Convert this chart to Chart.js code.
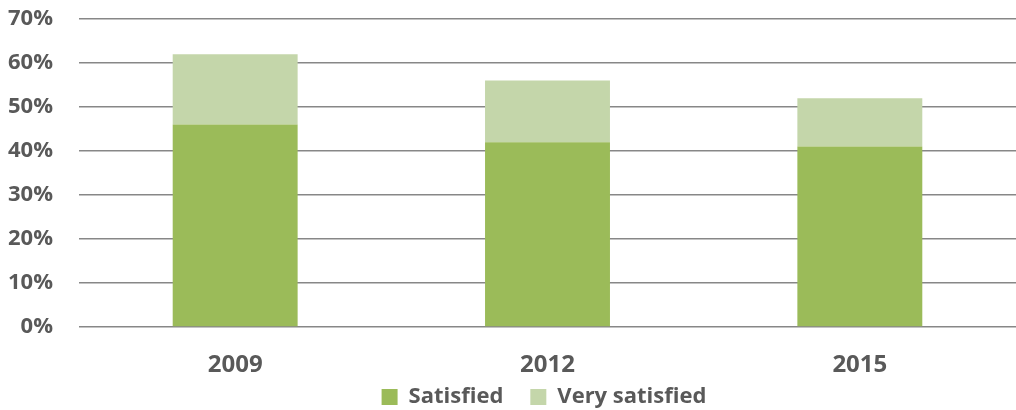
<!DOCTYPE html>
<html>
<head>
<meta charset="utf-8">
<script src="https://cdn.jsdelivr.net/npm/chart.js@4"></script>
<style>
  html, body { margin: 0; padding: 0; background: #fff; }
  #wrap { width: 1016px; height: 410px; }
</style>
</head>
<body>
<div id="wrap"><canvas id="chart"></canvas></div>
<script>
const years = ['2009', '2012', '2015'];
const satisfied = [46, 42, 41];
const verySatisfied = [16, 14, 11];
const yTicks = [0, 10, 20, 30, 40, 50, 60, 70];

const txt = '#595959';
const fontFam = '"Open Sans", "Noto Sans", sans-serif';

// legend sits a little right of centre in the original
const nudgeLegend = {
  id: 'nudgeLegend',
  afterLayout(chart) {
    const lg = chart.legend;
    lg.left += 33; lg.right += 33;
    lg.top += 2; lg.bottom += 2;
  }
};

new Chart(document.getElementById('chart').getContext('2d'), {
  type: 'bar',
  data: {
    labels: years,
    datasets: [
      { label: 'Satisfied', data: satisfied, backgroundColor: '#9bbb59', barPercentage: 0.4, categoryPercentage: 1 },
      { label: 'Very satisfied', data: verySatisfied, backgroundColor: '#c4d6aa', barPercentage: 0.4, categoryPercentage: 1 }
    ]
  },
  plugins: [nudgeLegend],
  options: {
    responsive: true,
    maintainAspectRatio: false,
    animation: false,
    layout: { padding: { top: 19, right: 0, bottom: 0, left: 6 } },
    plugins: {
      tooltip: { enabled: false },
      legend: {
        position: 'bottom',
        maxHeight: 53,
        labels: {
          color: txt,
          font: { family: fontFam, size: 22, weight: 'bold' },
          boxWidth: 16, boxHeight: 16, padding: 27
        }
      }
    },
    scales: {
      x: {
        stacked: true,
        grid: { display: false },
        border: { display: false },
        afterFit: (axis) => {
          axis.height = 30;
          // let the year labels run past the short axis box
          axis._computeLabelArea = () => undefined;
        },
        ticks: { color: txt, padding: 16, font: { family: fontFam, size: 24, weight: 'bold' } }
      },
      y: {
        stacked: true,
        min: 0, max: 70,
        afterBuildTicks: (axis) => { axis.ticks = yTicks.map(v => ({ value: v })); },
        afterFit: (axis) => { axis.width = 73; axis.paddingTop = 0; axis.paddingBottom = 0; },
        grid: { color: '#878787', lineWidth: 1.5, drawTicks: false },
        border: { display: false },
        ticks: {
          color: txt, padding: 26,
          font: { family: fontFam, size: 22, weight: 'bold' },
          callback: (v) => v + '%'
        }
      }
    }
  }
});
</script>
</body>
</html>
